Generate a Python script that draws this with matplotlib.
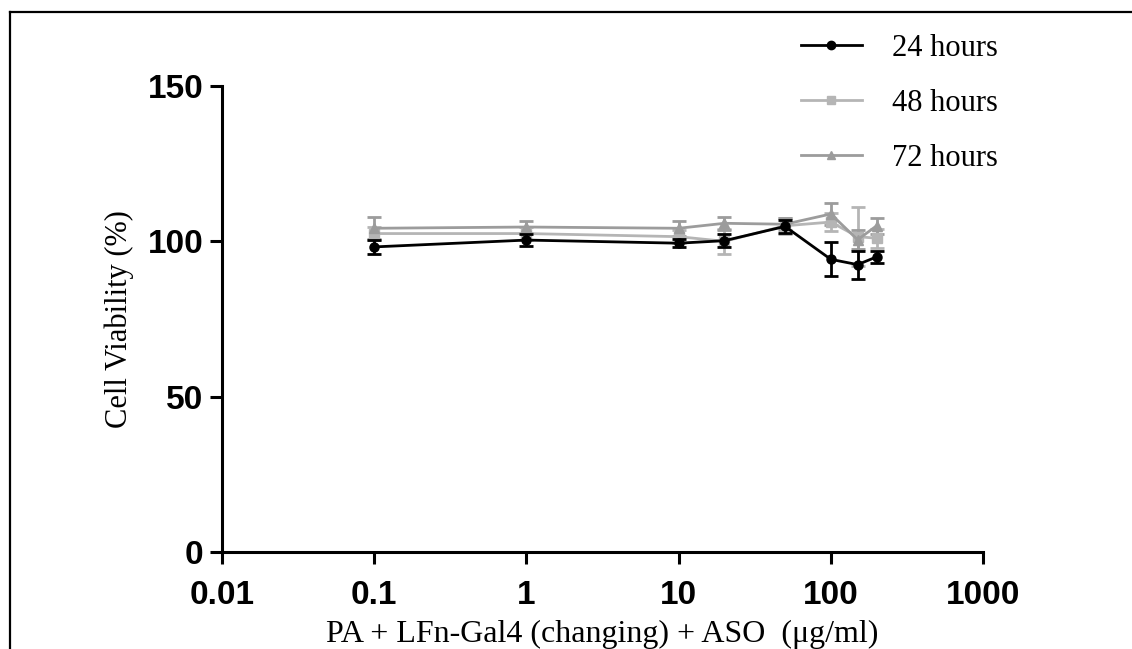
import numpy as np
import matplotlib
matplotlib.use("Agg")
import matplotlib.pyplot as plt
from matplotlib.lines import Line2D

# concentracion (ug/ml)
conc = [0.1, 1, 10, 20, 50, 100, 150, 200]

via_24 = [98.2, 100.4, 99.4, 100.2, 104.8, 94.2, 92.5, 95.0]
err_24 = [2.2, 1.8, 1.2, 2.0, 2.0, 5.5, 4.5, 2.0]

via_48 = [102.5, 102.5, 101.5, 100.0, 105.0, 106.2, 101.5, 101.0]
err_48 = [2.0, 2.0, 2.0, 4.0, 2.5, 3.0, 9.5, 3.0]

via_72 = [104.2, 104.6, 104.2, 105.8, 105.5, 108.8, 100.5, 105.0]
err_72 = [3.5, 2.0, 2.5, 2.0, 2.0, 3.5, 3.0, 2.5]

etiquetas = ["24 hours", "48 hours", "72 hours"]
colores = ["black", "#b5b5b5", "#9c9c9c"]
marcadores = ["o", "s", "^"]

fig = plt.figure(figsize=(11.32, 6.49), dpi=100)
ax = fig.add_axes([0.1961, 0.1495, 0.8684 - 0.1961, 0.8675 - 0.1495])

series = [(via_48, err_48), (via_72, err_72), (via_24, err_24)]
orden = [1, 2, 0]
for (v, e), i in zip(series, orden):
    ax.errorbar(conc, v, yerr=e, color=colores[i], marker=marcadores[i],
                markersize=6.5, linewidth=2, elinewidth=2, capsize=5, capthick=2,
                label=etiquetas[i], zorder=3 + (i == 0))

ax.set_xscale("log")
ax.set_xlim(0.01, 1000)
ax.set_ylim(0, 150)
ax.set_yticks([0, 50, 100, 150])
ax.set_xticks([0.01, 0.1, 1, 10, 100, 1000])
ax.set_xticklabels(["0.01", "0.1", "1", "10", "100", "1000"])
ax.minorticks_off()
for lab in ax.get_xticklabels() + ax.get_yticklabels():
    lab.set_fontfamily("Liberation Sans")
    lab.set_fontweight("bold")
    lab.set_fontsize(24)

ax.spines["top"].set_visible(False)
ax.spines["right"].set_visible(False)
ax.spines["left"].set_linewidth(2.2)
ax.spines["bottom"].set_linewidth(2.2)
ax.tick_params(axis="both", width=2.2, length=8.5)
ax.tick_params(axis="x", pad=12)
ax.tick_params(axis="y", pad=5)
ax.spines["left"].set_zorder(5)

ax.set_xlabel("PA + LFn-Gal4 (changing) + ASO  (\u03bcg/ml)", fontfamily="Liberation Serif",
              fontsize=23, labelpad=6)
ax.set_ylabel("Cell Viability (%)", fontfamily="Liberation Serif", fontsize=22, labelpad=10)

handles = [Line2D([], [], color=colores[i], marker=marcadores[i], markersize=6, linewidth=2)
           for i in range(3)]
ax.legend(handles, etiquetas, loc="upper left", bbox_to_anchor=(0.683, 0.99),
          bbox_transform=fig.transFigure, frameon=False, handlelength=2.0,
          handletextpad=1.0, labelspacing=0.85, prop={"family": "Liberation Serif", "size": 22})

# marco de la figura (solo arriba e izquierda)
fig.add_artist(Line2D([10 / 1132, 1], [1 - 12 / 649, 1 - 12 / 649], color="black", linewidth=1.6))
fig.add_artist(Line2D([10 / 1132, 10 / 1132], [0, 1 - 12 / 649], color="black", linewidth=1.6))

fig.savefig("out.png", dpi=100)
